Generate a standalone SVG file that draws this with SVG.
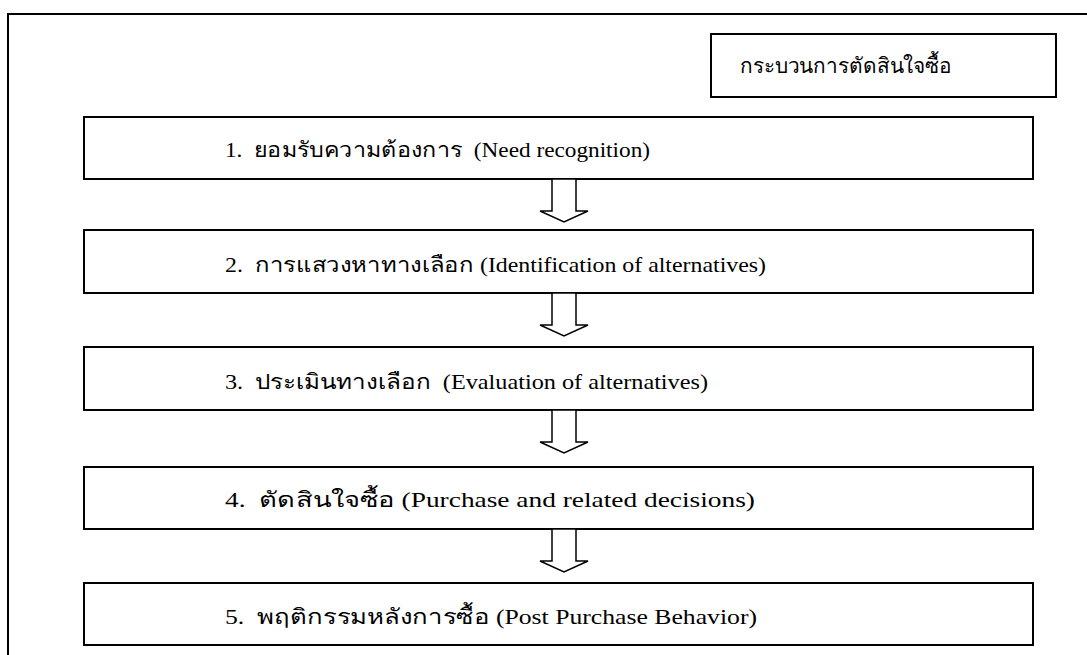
<svg xmlns="http://www.w3.org/2000/svg" width="1087" height="655" viewBox="0 0 1087 655">
<style>
.box{fill:#fff;stroke:#000;stroke-width:2}
.frame{fill:none;stroke:#000;stroke-width:2}
.arr{fill:#fff;stroke:#000;stroke-width:1.5;stroke-linejoin:miter}
text{font-size:21px;fill:#000}
</style>
<defs>
<path id="arrow" d="M-12,0 H12 V32 H24 L0,43 L-24,32 H-12 Z"/>
</defs>
<rect width="1087" height="655" fill="#fff"/>
<path class="frame" d="M8,655 V14 H1087"/>
<g id="title">
<rect class="box" x="711" y="34" width="345" height="63"/>
<text x="740" y="73" font-family="'Liberation Serif', serif" font-size="23" textLength="212" lengthAdjust="spacingAndGlyphs">กระบวนการตัดสินใจซื้อ</text>
</g>
<g id="step1">
<rect class="box" x="84" y="117" width="949" height="62"/>
<text x="225" y="157" font-family="'Liberation Serif', serif" textLength="425" lengthAdjust="spacingAndGlyphs" xml:space="preserve">1.  ยอมรับความต้องการ  (Need recognition)</text>
</g>
<g id="step2">
<rect class="box" x="84" y="230" width="949" height="63"/>
<text x="225" y="272" font-family="'Liberation Serif', serif" textLength="541" lengthAdjust="spacingAndGlyphs" xml:space="preserve">2.  การแสวงหาทางเลือก (Identification of alternatives)</text>
</g>
<g id="step3">
<rect class="box" x="84" y="347" width="949" height="63"/>
<text x="225" y="389" font-family="'Liberation Serif', serif" textLength="483" lengthAdjust="spacingAndGlyphs" xml:space="preserve">3.  ประเมินทางเลือก  (Evaluation of alternatives)</text>
</g>
<g id="step4">
<rect class="box" x="84" y="467" width="949" height="62"/>
<text x="225" y="507" font-family="'Liberation Serif', serif" textLength="530" lengthAdjust="spacingAndGlyphs" xml:space="preserve">4.  ตัดสินใจซื้อ (Purchase and related decisions)</text>
</g>
<g id="step5">
<rect class="box" x="84" y="583" width="949" height="62"/>
<text x="225" y="624" font-family="'Liberation Serif', serif" textLength="532" lengthAdjust="spacingAndGlyphs" xml:space="preserve">5.  พฤติกรรมหลังการซื้อ (Post Purchase Behavior)</text>
</g>
<g id="connectors">
<use href="#arrow" class="arr" x="564" y="179"/>
<use href="#arrow" class="arr" x="564" y="293"/>
<use href="#arrow" class="arr" x="564" y="410"/>
<use href="#arrow" class="arr" x="564" y="529"/>
</g>
</svg>
